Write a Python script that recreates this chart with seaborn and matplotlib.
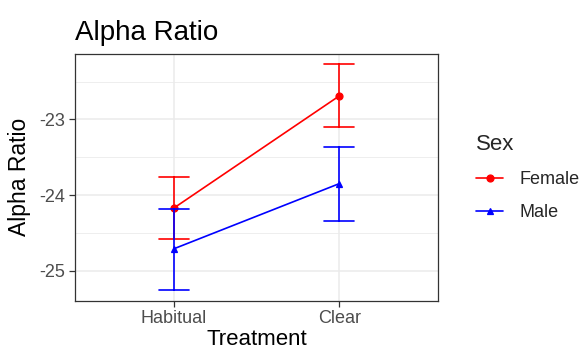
import numpy as np
import pandas as pd
import seaborn as sns
import matplotlib
matplotlib.use("Agg")
import matplotlib.pyplot as plt
from matplotlib.ticker import MultipleLocator

# Group summaries: mean and interval bounds of the alpha ratio
treatments = ["Habitual", "Clear"]
sexes = ["Female", "Male"]
female_mean = [-24.17, -22.69]
female_low = [-24.58, -23.10]
female_high = [-23.76, -22.27]
male_mean = [-24.71, -23.85]
male_low = [-25.25, -24.34]
male_high = [-24.18, -23.36]

# Long table: each group carries its low, mean and high value so the
# median is the mean and the min/max span is the interval.
rows = []
for sex, lo, mu, hi in [("Female", female_low, female_mean, female_high),
                        ("Male", male_low, male_mean, male_high)]:
    for i, t in enumerate(treatments):
        for v in (lo[i], mu[i], hi[i]):
            rows.append({"Treatment": t, "Sex": sex, "Alpha Ratio": v})
df = pd.DataFrame(rows)

sns.set_theme(style="whitegrid")
plt.rcParams["font.family"] = ["Liberation Sans", "DejaVu Sans"]
plt.rcParams["axes.unicode_minus"] = False

fig = plt.figure(figsize=(5.82, 3.54), dpi=100)
ax = fig.add_axes([0.129, 0.151, 0.624, 0.696])

sns.pointplot(
    data=df, x="Treatment", y="Alpha Ratio", hue="Sex",
    order=treatments, hue_order=sexes,
    palette={"Female": "#FF0000", "Male": "#0000FF"},
    estimator="median", errorbar=lambda v: (v.min(), v.max()),
    markers=["o", "^"], linestyles=["-", "-"],
    capsize=0.18, linewidth=1.2, markersize=5,
    dodge=False, ax=ax,
)

ax.set_xlim(-0.6, 1.6)
ax.set_ylim(-25.396, -22.137)
ax.yaxis.set_major_locator(MultipleLocator(1))
ax.yaxis.set_minor_locator(MultipleLocator(0.5))

ax.grid(True, which="major", color="#EBEBEB", linewidth=1.1)
ax.grid(True, which="minor", axis="y", color="#EBEBEB", linewidth=0.6)
ax.set_axisbelow(True)
for s in ax.spines.values():
    s.set_color("#333333")
    s.set_linewidth(0.9)
    s.set_visible(True)

ax.tick_params(axis="both", which="major", length=4, width=0.9,
               color="#333333", labelcolor="#4D4D4D", labelsize=13, pad=3,
               left=True, bottom=True)
ax.tick_params(axis="y", which="minor", length=0)

ax.set_xlabel("Treatment", fontsize=16, color="black", labelpad=1)
ax.set_ylabel("Alpha Ratio", fontsize=16.5, color="black", labelpad=6)
ax.set_title("Alpha Ratio", fontsize=20, color="black", loc="left", pad=10)

sns.move_legend(ax, "center left", bbox_to_anchor=(1.06, 0.5), frameon=False,
                title="Sex", fontsize=13, title_fontsize=16,
                handlelength=1.5, handletextpad=0.9, labelspacing=0.9,
                alignment="left")

fig.savefig("out.png", dpi=100)
